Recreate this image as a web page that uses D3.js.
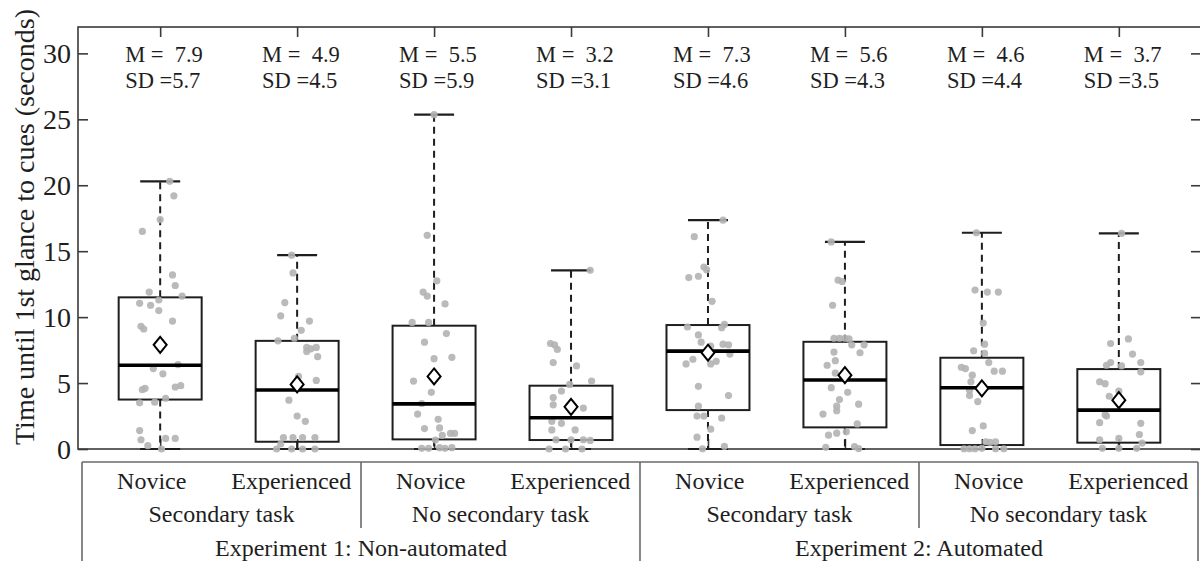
<!DOCTYPE html>
<html>
<head>
<meta charset="utf-8">
<script src="https://cdn.jsdelivr.net/npm/d3@7"></script>
<style>
  html, body { margin: 0; padding: 0; background: #fff; }
  svg { display: block; font-family: "Liberation Serif", "Times New Roman", serif; }
  text { white-space: pre; }
</style>
</head>
<body>
<svg id="chart" width="1200" height="561"></svg>
<script>
// Conditions, left to right
const participants = ["Novice", "Experienced", "Novice", "Experienced", "Novice", "Experienced", "Novice", "Experienced"];
const taskGroups = ["Secondary task", "No secondary task", "Secondary task", "No secondary task"];
const experiments = ["Experiment 1: Non-automated", "Experiment 2: Automated"];

// Box statistics (seconds)
const whiskerHigh = [20.3, 14.7, 25.35, 13.55, 17.35, 15.7, 16.4, 16.35];
const q3 = [11.5, 8.2, 9.35, 4.8, 9.4, 8.13, 6.92, 6.06];
const medians = [6.35, 4.47, 3.42, 2.37, 7.42, 5.23, 4.65, 2.95];
const q1 = [3.75, 0.55, 0.73, 0.68, 2.95, 1.64, 0.3, 0.48];
const whiskerLow = [0, 0, 0, 0, 0, 0, 0, 0];
const means = [7.9, 4.9, 5.5, 3.2, 7.3, 5.6, 4.6, 3.7];
const sds = [5.7, 4.5, 5.9, 3.1, 4.6, 4.3, 4.4, 3.5];

// Y axis ticks
const yTicks = [0, 5, 10, 15, 20, 25, 30];

// Individual participants: [seconds, jitter in category units]
const obs1 = [[20.3,.07],[19.2,.10],[17.4,0],[16.5,-.13],[13.2,.09],[12.4,.11],[11.9,-.08],[11.3,-.01],[11.6,.16],[11.05,-.15],[10.9,-.07],[10.5,-.01],[9.7,.09],[9.3,-.14],[9.1,-.12],[6.1,-.05],[6.4,.13],[5.7,.02],[4.5,-.13],[4.6,-.11],[4.7,.11],[4.8,.15],[3.5,-.15],[3.55,-.04],[3.85,.04],[1.4,-.15],[0.7,-.14],[0.25,-.09],[0.8,.04],[0.8,.11],[0,.01]];
const obs2 = [[14.7,-.04],[13.35,-.03],[11.1,-.09],[10.1,-.12],[9.7,.09],[9.0,.03],[8.4,-.02],[8.2,-.14],[7.7,.07],[7.6,.10],[7.7,.14],[7.4,.07],[7.0,.15],[5.5,.01],[5.2,.14],[3.7,-.06],[2.5,0],[2.1,.06],[0.87,-.10],[0.87,-.03],[0.87,.04],[0.87,.13],[0.38,-.12],[0,-.15],[0,-.04],[0,.04],[0,.13]];
const obs3 = [[25.35,0],[16.2,-.05],[12.75,.02],[11.9,-.08],[11.6,-.05],[11.0,.08],[9.6,-.16],[9.6,-.04],[8.75,.09],[8.1,-.07],[6.85,0],[6.95,.13],[5.15,-.15],[4.3,-.02],[3.45,-.09],[2.65,-.12],[2.25,.03],[1.55,-.07],[1.6,.04],[1.18,.12],[1.18,.15],[1.04,.06],[0.68,.01],[0.1,.04],[0.05,.08],[0.1,.13],[0.05,-.09],[0.05,-.04]];
const obs4 = [[13.55,.14],[8.0,-.15],[7.9,-.12],[7.55,-.10],[6.55,-.13],[6.3,.04],[5.15,.15],[4.9,-.01],[4.4,-.07],[3.9,-.13],[3.35,-.13],[3.1,.09],[2.1,-.14],[1.95,-.07],[1.45,-.14],[1.45,.03],[0.7,-.11],[0.7,0],[0.7,.09],[0.65,.14],[0,-.16],[0,-.04],[0,.08]];
const obs5 = [[17.35,.11],[16.1,-.10],[13.8,-.03],[13.6,-.01],[13.0,-.14],[13.1,-.07],[11.2,.03],[9.25,-.15],[9.45,.12],[9.2,.10],[8.65,-.07],[8.1,-.05],[7.8,.02],[7.95,.11],[7.9,.15],[7.2,.16],[6.8,-.11],[6.45,-.16],[6.45,.02],[6.65,.06],[4.75,-.07],[4.05,.15],[3.25,-.07],[2.5,-.08],[2.5,-.03],[2.35,.10],[1.5,.02],[0.9,-.08],[0.2,.12],[0.02,-.04]];
const obs6 = [[15.7,-.10],[12.8,-.05],[12.7,-.02],[10.9,-.09],[8.4,-.08],[8.4,-.04],[8.4,0],[8.35,.03],[7.9,.05],[7.9,.14],[7.35,-.08],[7.3,.11],[6.7,-.07],[6.35,-.13],[5.75,-.07],[4.3,.02],[4.65,-.10],[3.75,-.04],[3.4,.10],[3.25,-.06],[2.9,-.06],[2.65,-.16],[1.9,.09],[1.3,.01],[1.05,-.12],[1.2,-.06],[0.13,-.14],[0.18,.07],[0.03,.10]];
const obs7 = [[16.4,-.04],[12.05,-.05],[11.9,.04],[11.9,.12],[9.55,.01],[7.95,.02],[7.45,-.06],[7.25,.02],[6.55,.05],[6.2,-.15],[6.1,-.12],[5.9,.09],[5.9,.15],[5.6,-.07],[5.1,-.08],[4.45,-.09],[4.05,-.09],[3.6,-.03],[1.75,.01],[1.4,-.07],[0.55,.03],[0.5,.06],[0.55,.10],[0.02,-.13],[0.02,-.09],[0.02,-.05],[0.05,0],[0.02,.10],[0.02,.16]];
const obs8 = [[16.35,.02],[8.0,-.06],[8.35,.07],[7.2,.10],[6.55,-.06],[6.35,-.09],[6.55,.16],[5.85,.16],[6.3,.02],[5.1,-.14],[4.95,-.10],[4.0,-.07],[4.4,0],[2.6,-.10],[2.5,-.09],[2.0,-.14],[1.95,.16],[1.1,.15],[0.7,-.14],[0.8,0],[0.45,.17],[0.05,-.12],[0.05,0],[0.05,.13]];
const observations = [obs1, obs2, obs3, obs4, obs5, obs6, obs7, obs8];

// ---- layout ----
const W = 1200, H = 561;
const plot = { left: 78, right: 1201, top: 27, bottom: 449 };
const ink = "#1e1e1e";
const frameColor = "#3a3a3a";

const svg = d3.select("#chart");
svg.append("rect").attr("width", W).attr("height", H).attr("fill", "#fff");

const x = d3.scaleLinear().domain([0.4, 8.6]).range([plot.left, plot.right]);
const y = d3.scaleLinear().domain([0, 32]).range([plot.bottom, plot.top]);
const idx = d3.range(1, participants.length + 1);
const boxHalf = (x(1.303) - x(1));   // half box width
const capHalf = (x(1.146) - x(1));   // half whisker-cap width

// inward-pointing axes on all four sides
const tickLen = 10;
const gLeft = svg.append("g").attr("transform", `translate(${plot.left},0)`)
  .call(d3.axisRight(y).tickValues(yTicks).tickSize(tickLen).tickFormat(""));
const gRight = svg.append("g").attr("transform", `translate(${plot.right},0)`)
  .call(d3.axisLeft(y).tickValues(yTicks).tickSize(tickLen).tickFormat(""));
const gTop = svg.append("g").attr("transform", `translate(0,${plot.top})`)
  .call(d3.axisBottom(x).tickValues(idx).tickSize(tickLen).tickFormat(""));
const gBottom = svg.append("g").attr("transform", `translate(0,${plot.bottom})`)
  .call(d3.axisTop(x).tickValues(idx).tickSize(tickLen).tickFormat(""));
[gLeft, gRight, gTop, gBottom].forEach(g => {
  g.select(".domain").remove();
  g.selectAll(".tick line").attr("stroke", frameColor).attr("stroke-width", 1.6);
});
svg.append("rect")
  .attr("x", plot.left).attr("y", plot.top)
  .attr("width", plot.right - plot.left).attr("height", plot.bottom - plot.top)
  .attr("fill", "none").attr("stroke", frameColor).attr("stroke-width", 1.6);

// y tick labels
svg.append("g").selectAll("text").data(yTicks).join("text")
  .attr("x", 71).attr("y", d => y(d)).attr("dy", "0.35em")
  .attr("text-anchor", "end").attr("font-size", 28).attr("fill", ink)
  .text(d => d);

// y title
svg.append("text")
  .attr("transform", `translate(34,227) rotate(-90)`)
  .attr("text-anchor", "middle").attr("font-size", 28).attr("fill", ink)
  .text("Time until 1st glance to cues (seconds)");

// boxes
const boxes = svg.append("g");
idx.forEach((c, i) => {
  const cx = x(c);
  const g = boxes.append("g");
  // whiskers (dashed)
  g.append("line").attr("x1", cx).attr("x2", cx).attr("y1", y(q3[i])).attr("y2", y(whiskerHigh[i]))
    .attr("stroke", ink).attr("stroke-width", 2).attr("stroke-dasharray", "7,5");
  g.append("line").attr("x1", cx).attr("x2", cx).attr("y1", y(q1[i])).attr("y2", y(whiskerLow[i]))
    .attr("stroke", ink).attr("stroke-width", 2).attr("stroke-dasharray", "7,5");
  // caps
  [whiskerHigh[i], whiskerLow[i]].forEach(v => {
    g.append("line").attr("x1", cx - capHalf).attr("x2", cx + capHalf).attr("y1", y(v)).attr("y2", y(v))
      .attr("stroke", ink).attr("stroke-width", 2.2);
  });
  // box
  g.append("rect").attr("x", cx - boxHalf).attr("width", 2 * boxHalf)
    .attr("y", y(q3[i])).attr("height", y(q1[i]) - y(q3[i]))
    .attr("fill", "none").attr("stroke", ink).attr("stroke-width", 2);
});

// participant points
const pts = svg.append("g");
idx.forEach((c, i) => {
  pts.selectAll(null).data(observations[i]).join("circle")
    .attr("cx", d => x(c + d[1])).attr("cy", d => y(d[0])).attr("r", 3.6)
    .attr("fill", "#b3b3b3").attr("opacity", 0.9);
});

// medians
svg.append("g").selectAll("line").data(idx).join("line")
  .attr("x1", c => x(c) - boxHalf).attr("x2", c => x(c) + boxHalf)
  .attr("y1", (c, i) => y(medians[i])).attr("y2", (c, i) => y(medians[i]))
  .attr("stroke", "#000").attr("stroke-width", 3.6);

// means as diamonds
const dw = 6.5, dh = 8;
svg.append("g").selectAll("path").data(idx).join("path")
  .attr("d", (c, i) => {
    const px = x(c), py = y(means[i]);
    return `M${px},${py - dh}L${px + dw},${py}L${px},${py + dh}L${px - dw},${py}Z`;
  })
  .attr("fill", "#fff").attr("stroke", "#000").attr("stroke-width", 2);

// M / SD annotations
const ann = svg.append("g").attr("font-size", 22.5).attr("fill", ink);
idx.forEach((c, i) => {
  const left = x(c) - 35;
  ann.append("text").attr("x", left).attr("y", 62).text(`M =  ${means[i].toFixed(1)}`);
  ann.append("text").attr("x", left).attr("y", 88).text(`SD =${sds[i].toFixed(1)}`);
});

// category table below the plot
const tbl = { left: 82, right: 1198, top: 462 };
const cell = d3.scaleLinear().domain([0, participants.length]).range([tbl.left, tbl.right]);
const lineColor = "#6a6a6a";
const tg = svg.append("g");
tg.append("line").attr("x1", tbl.left).attr("x2", tbl.right).attr("y1", tbl.top).attr("y2", tbl.top)
  .attr("stroke", lineColor).attr("stroke-width", 1.6);
[0, 4, 8].forEach(k => {
  tg.append("line").attr("x1", cell(k)).attr("x2", cell(k)).attr("y1", tbl.top).attr("y2", H)
    .attr("stroke", lineColor).attr("stroke-width", 1.6);
});
[2, 6].forEach(k => {
  tg.append("line").attr("x1", cell(k)).attr("x2", cell(k)).attr("y1", tbl.top).attr("y2", 528)
    .attr("stroke", lineColor).attr("stroke-width", 1.6);
});
const tt = tg.append("g").attr("font-size", 24).attr("fill", ink).attr("text-anchor", "middle");
participants.forEach((p, i) => {
  tt.append("text").attr("x", cell(i + 0.5)).attr("y", 489).text(p);
});
taskGroups.forEach((t, i) => {
  tt.append("text").attr("x", cell(2 * i + 1)).attr("y", 522).text(t);
});
experiments.forEach((e, i) => {
  tt.append("text").attr("x", cell(4 * i + 2)).attr("y", 556).text(e);
});
</script>
</body>
</html>
